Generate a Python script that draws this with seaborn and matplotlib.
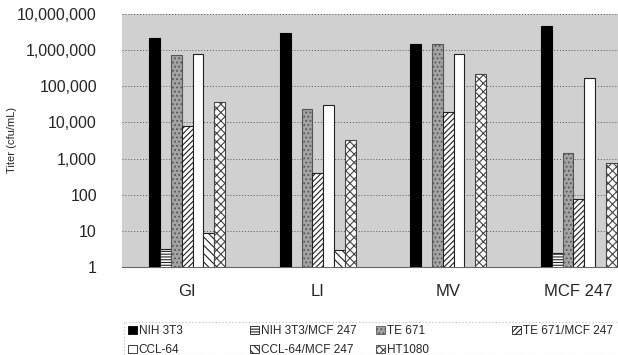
import numpy as np
import pandas as pd
import matplotlib
matplotlib.use('Agg')
from matplotlib import pyplot as plt
import matplotlib.patches as mpatches
from matplotlib.ticker import FixedLocator, FixedFormatter, NullLocator
import seaborn as sns

# Virus stocks (x groups) and target cells (hue)
sites = ['GI', 'LI', 'MV', 'MCF 247']
cells = ['NIH 3T3', 'NIH 3T3/MCF 247', 'TE 671', 'TE 671/MCF 247',
         'CCL-64', 'CCL-64/MCF 247', 'HT1080']

# Titers (nan = no bar)
nih3t3 = [2.1e6, 2.9e6, 1.5e6, 4.7e6]
nih3t3_mcf = [3.2, np.nan, np.nan, 2.5]
te671 = [7.5e5, 2.3e4, 1.45e6, 1.4e3]
te671_mcf = [7.8e3, 400, 2.0e4, 78]
ccl64 = [8.0e5, 3.1e4, 7.8e5, 1.75e5]
ccl64_mcf = [8.5, 3.0, np.nan, np.nan]
ht1080 = [3.6e4, 3.3e3, 2.2e5, 760]

series = [nih3t3, nih3t3_mcf, te671, te671_mcf, ccl64, ccl64_mcf, ht1080]
rows = []
for cell, vals in zip(cells, series):
    for site, v in zip(sites, vals):
        rows.append({'site': site, 'cell': cell, 'titer': v})
df = pd.DataFrame(rows)

sns.set_style('white')
plt.rcParams['font.family'] = ['Liberation Sans', 'DejaVu Sans']
plt.rcParams['hatch.linewidth'] = 0.8

fig = plt.figure(figsize=(6.18, 3.55), dpi=100)
W, H = 618, 355
ax = fig.add_axes([122 / W, (H - 267) / H, 522 / W, 253 / H])
ax.set_facecolor('#d0d0d0')

face = ['black', 'white', '#a3a3a3', 'white', 'white', 'white', 'white']
sns.barplot(data=df, x='site', y='titer', hue='cell', hue_order=cells,
            order=sites, palette=face, width=0.58, errorbar=None,
            saturation=1, ax=ax, legend=False, zorder=3)
ax.set_yscale('log')

hatches = [None, '------', '....', '//////', None, '\\\\\\\\', 'xxxx']
edges = ['black', '#222222', '#555555', '#222222', '#222222', '#222222', '#444444']
for cont, h, ec in zip(ax.containers, hatches, edges):
    for p in cont:
        p.set_edgecolor(ec)
        p.set_linewidth(0.8)
        if h:
            p.set_hatch(h)

ax.set_ylim(1, 1e7)
ax.set_xlim(-0.5, 3.5)
decades = [1, 10, 100, 1000, 1e4, 1e5, 1e6, 1e7]
ax.yaxis.set_major_locator(FixedLocator(decades))
ax.yaxis.set_major_formatter(FixedFormatter([f'{int(d):,}' for d in decades]))
ax.yaxis.set_minor_locator(NullLocator())
ax.grid(axis='y', color='#555555', linestyle=(0, (1, 2)), linewidth=0.7, zorder=1)
ax.set_axisbelow(True)
for s in ['top', 'right', 'left']:
    ax.spines[s].set_visible(False)
ax.spines['bottom'].set_color('#666666')
ax.spines['bottom'].set_linewidth(0.8)
ax.tick_params(axis='y', labelsize=11.5, length=0, pad=18)
ax.tick_params(axis='x', labelsize=12, length=0, pad=12)
ax.set_xlabel('')
ax.set_ylabel('')
fig.text(12 / W, 1 - 140 / H, 'Titer (cfu/mL)', rotation=90, fontsize=8,
         ha='center', va='center')

# legend box (bottom cut off as in the source)
fig.patches.append(mpatches.Rectangle((124 / W, 0), 1, (H - 322) / H,
                                      transform=fig.transFigure, facecolor='white',
                                      edgecolor='#bbbbbb', linestyle=(0, (1, 2)),
                                      linewidth=0.8))

handles = []
for f, h, ec in zip(face, hatches, edges):
    handles.append(mpatches.Patch(facecolor=f, edgecolor=ec, hatch=h, linewidth=0.6))

col_x = [128, 250, 376, 512]
for ci, x in enumerate(col_x):
    idx = [i for i in (ci, ci + 4) if i < len(cells)]
    fig.legend([handles[i] for i in idx], [cells[i] for i in idx],
               loc='upper left', bbox_to_anchor=(x / W, 1 - 325 / H),
               frameon=False, fontsize=8.5, handlelength=0.75, handleheight=0.75,
               handletextpad=0.15, labelspacing=0.6, borderpad=0, borderaxespad=0)

fig.savefig('out.png', dpi=100)
